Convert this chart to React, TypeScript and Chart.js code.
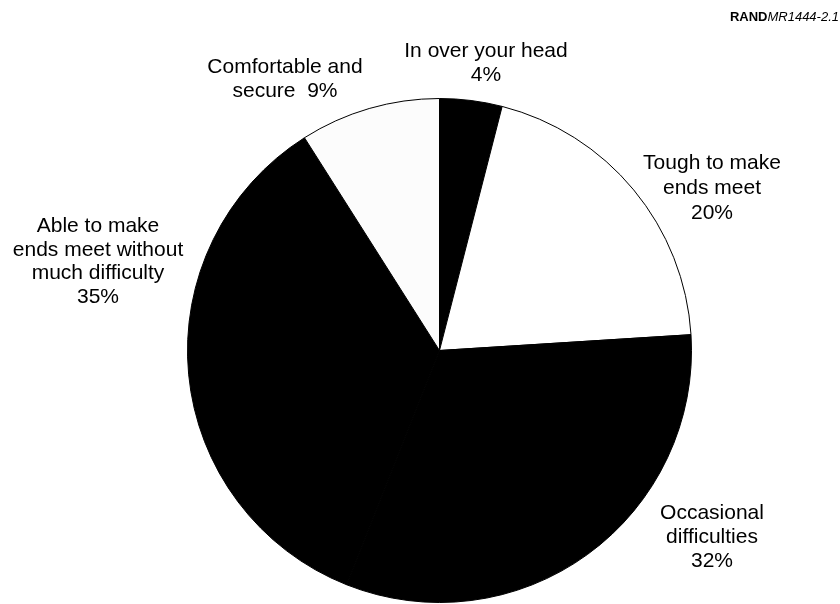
import React, { useEffect, useRef } from "react";
import { Chart, registerables } from "chart.js";

Chart.register(...registerables);

// Data
const categories: string[][] = [
  ["In over your head", "4%"],
  ["Tough to make", "ends meet", "20%"],
  ["Occasional", "difficulties", "32%"],
  ["Able to make", "ends meet without", "much difficulty", "35%"],
  ["Comfortable and", "secure  9%"],
];
const values: number[] = [4, 20, 32, 35, 9];
const sliceColors: string[] = ["#000000", "#ffffff", "#000000", "#000000", "#fcfcfc"];

// Label layout (center x, first baseline y, line height)
const labelAnchors: { x: number; y: number; lh: number }[] = [
  { x: 486, y: 57, lh: 24 },
  { x: 712, y: 169, lh: 25 },
  { x: 712, y: 519, lh: 24 },
  { x: 98, y: 232, lh: 23.7 },
  { x: 285, y: 73, lh: 24 },
];

const sourceBold = "RAND";
const sourceItalic = "MR1444-2.1";

const FONT = '"Liberation Sans", Arial, Helvetica, sans-serif';

const labelPlugin = {
  id: "sliceLabels",
  afterDraw(chart: any) {
    const ctx = chart.ctx as CanvasRenderingContext2D;
    ctx.save();
    ctx.fillStyle = "#000";
    ctx.textAlign = "center";
    ctx.textBaseline = "alphabetic";
    ctx.font = `21px ${FONT}`;
    categories.forEach((lines, i) => {
      const a = labelAnchors[i];
      lines.forEach((ln, j) => {
        ctx.fillText(ln, a.x, a.y + j * a.lh);
      });
    });
    // source tag
    ctx.textAlign = "left";
    ctx.font = `bold 13px ${FONT}`;
    const wb = ctx.measureText(sourceBold).width;
    ctx.font = `italic 13px ${FONT}`;
    const wi = ctx.measureText(sourceItalic).width;
    const right = 839;
    const x0 = right - wb - wi;
    ctx.font = `bold 13px ${FONT}`;
    ctx.fillText(sourceBold, x0, 21);
    ctx.font = `italic 13px ${FONT}`;
    ctx.fillText(sourceItalic, x0 + wb, 21);
    ctx.restore();
  },
};

export default function App() {
  const ref = useRef<HTMLCanvasElement>(null);
  useEffect(() => {
    if (!ref.current) return;
    const chart = new Chart(ref.current, {
      type: "pie",
      data: {
        labels: categories.map((c) => c.join(" ")),
        datasets: [
          {
            data: values,
            backgroundColor: sliceColors,
            borderColor: "#000000",
            borderWidth: 1,
          },
        ],
      },
      options: {
        responsive: false,
        animation: false,
        layout: { padding: { top: 98, bottom: 1, left: 187, right: 148 } },
        plugins: {
          legend: { display: false },
          tooltip: { enabled: false },
        },
      },
      plugins: [labelPlugin],
    });
    return () => chart.destroy();
  }, []);
  return (
    <div style={{ position: "absolute", left: 0, top: 0, width: 840, height: 604, background: "#fff" }}>
      <canvas ref={ref} width={840} height={604} style={{ display: "block" }} />
    </div>
  );
}
